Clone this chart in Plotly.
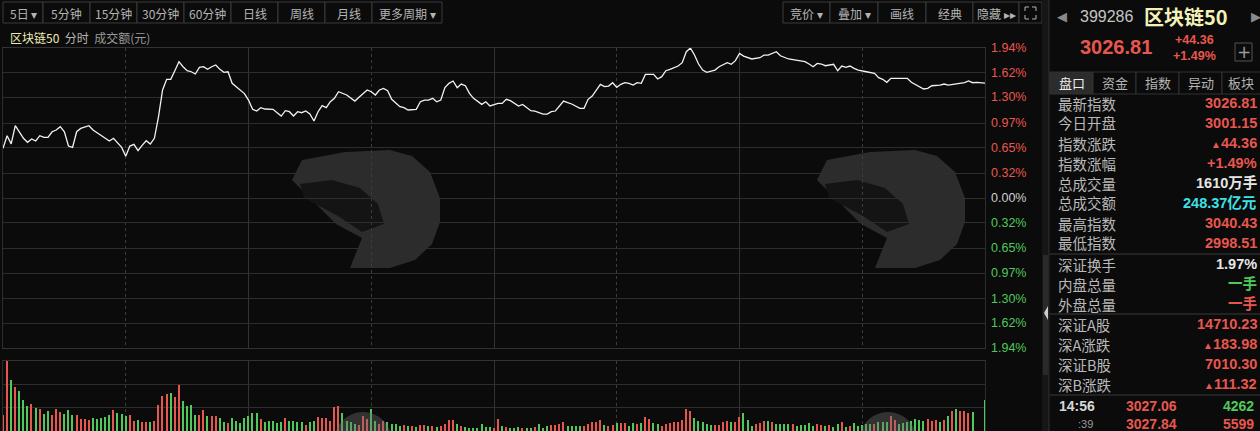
import plotly.graph_objects as go

# ---------------- data ----------------
# intraday minute index (0 = 9:30, 120 = 13:00, 240 = 15:00) and change vs prev close (%)
price_min = [0, 1, 2, 3, 5, 6, 7, 8, 9, 10, 11, 12, 13, 14, 15, 16, 17, 18, 19, 21, 22, 24, 25, 26, 27, 29, 30,
             31, 32, 33, 34, 35, 36, 37, 38, 39, 40, 41, 42, 43, 44, 45, 46, 47, 48, 49, 50, 51, 52, 53, 54, 55,
             56, 58, 59, 60, 61, 62, 63, 64, 66, 67, 68, 69, 70, 71, 72, 73, 74, 75, 76, 77, 78, 79, 80, 81, 82,
             84, 86, 87, 89, 90, 91, 92, 93, 94, 95, 97, 98, 99, 101, 102, 103, 104, 105, 106, 107, 108, 109, 110,
             111, 112, 113, 114, 115, 117, 118, 119, 121, 122, 123, 124, 126, 127, 128, 129, 130, 132, 133, 134,
             135, 137, 138, 139, 141, 142, 143, 144, 146, 147, 148, 149, 150, 151, 152, 153, 154, 155, 156, 157,
             159, 160, 161, 162, 163, 165, 166, 167, 168, 169, 170, 171, 172, 174, 175, 177, 178, 179, 180, 181,
             183, 185, 186, 187, 189, 190, 192, 194, 196, 197, 198, 199, 200, 201, 203, 204, 205, 206, 207, 208,
             209, 211, 213, 214, 215, 216, 217, 219, 221, 222, 224, 225, 226, 227, 229, 230, 231, 233, 234, 235,
             236, 237, 238, 239, 240]
price_pct = [0.643, 0.806, 0.70, 0.935, 0.772, 0.72, 0.763, 0.737, 0.806, 0.785, 0.785, 0.857, 0.879, 0.922,
             0.857, 0.672, 0.655, 0.857, 0.90, 0.935, 0.879, 0.806, 0.78, 0.737, 0.772, 0.655, 0.54,
             0.672, 0.694, 0.612, 0.68, 0.741, 0.698, 0.772, 1.05, 1.397, 1.535, 1.535, 1.646, 1.763, 1.698,
             1.646, 1.633, 1.604, 1.690, 1.698, 1.664, 1.698, 1.72, 1.664, 1.625, 1.633,
             1.483, 1.397, 1.35, 1.267, 1.147, 1.125, 1.168, 1.151, 1.147, 1.103, 1.06, 1.129, 1.116, 1.06,
             1.116, 1.103, 1.125, 1.086, 0.996, 1.116, 1.194, 1.168, 1.245, 1.289, 1.375,
             1.332, 1.254, 1.302, 1.397, 1.375, 1.332, 1.397, 1.418, 1.388, 1.276, 1.181, 1.168, 1.138, 1.147,
             1.245, 1.267, 1.267, 1.289, 1.245, 1.267, 1.427, 1.483, 1.513,
             1.427, 1.474, 1.452, 1.354, 1.289, 1.211, 1.245, 1.19, 1.224, 1.224, 1.276, 1.259, 1.19, 1.211,
             1.168, 1.129, 1.125, 1.086, 1.086, 1.116,
             1.125, 1.254, 1.233, 1.216, 1.16, 1.16, 1.276, 1.319, 1.47, 1.44, 1.448, 1.491, 1.431, 1.47, 1.491,
             1.483, 1.461, 1.491, 1.483, 1.599,
             1.599, 1.539, 1.569, 1.646, 1.664, 1.707, 1.75, 1.892, 1.94, 1.849, 1.733, 1.655, 1.625, 1.655,
             1.698, 1.75, 1.729, 1.776, 1.871, 1.836,
             1.798, 1.814, 1.849, 1.849, 1.892, 1.84, 1.798, 1.776, 1.763, 1.733, 1.698, 1.741, 1.733, 1.711,
             1.729, 1.646, 1.707, 1.69, 1.707, 1.677,
             1.655, 1.633, 1.612, 1.556, 1.535, 1.496, 1.548, 1.548, 1.548, 1.496, 1.44, 1.41, 1.418, 1.452,
             1.461, 1.474, 1.461, 1.474, 1.483, 1.491,
             1.513, 1.491, 1.496, 1.491, 1.487]

# per-minute turnover (arbitrary units) and direction (u = up / red, d = down / green)
vol = [16, 70, 51, 44, 40, 31, 25, 27, 23, 22, 17, 20, 16, 22, 19, 17, 21, 16, 16, 12,
       12, 11, 13, 12, 13, 14, 16, 21, 18, 17, 15, 16, 10, 11, 9, 9, 9, 10, 26, 35,
       37, 38, 34, 46, 30, 25, 26, 16, 16, 21, 15, 15, 15, 13, 9, 8, 13, 10, 8, 13,
       15, 18, 18, 12, 9, 10, 10, 8, 9, 13, 10, 10, 9, 9, 6, 9, 10, 14, 13, 13,
       10, 24, 25, 18, 10, 9, 7, 6, 15, 12, 22, 10, 7, 10, 9, 7, 7, 5, 6, 5,
       5, 4, 6, 6, 5, 5, 4, 5, 7, 11, 11, 7, 5, 4, 3, 3, 3, 7, 4, 4,
       3, 12, 5, 4, 3, 3, 4, 3, 3, 3, 4, 7, 3, 5, 6, 6, 7, 9, 5, 5,
       5, 5, 5, 7, 9, 9, 11, 6, 5, 6, 8, 8, 8, 5, 8, 7, 8, 14, 12, 8,
       7, 5, 7, 8, 9, 9, 11, 22, 20, 13, 10, 9, 7, 6, 6, 6, 9, 10, 9, 9,
       14, 18, 11, 5, 7, 8, 10, 10, 9, 7, 7, 7, 7, 7, 5, 6, 6, 8, 5, 7,
       6, 5, 6, 4, 7, 9, 4, 5, 8, 5, 6, 7, 7, 7, 9, 9, 9, 15, 11, 7,
       8, 9, 10, 12, 11, 10, 12, 10, 11, 9, 11, 15, 20, 22, 20, 20, 18, 19, 0, 0,
       31]
vol_dir = [
 'u','u','d','u','d','d','d','u','d','u','d','d','u','u','u','d','d','d','u','u',
 'u','u','d','d','d','d','d','u','d','d','d','u','u','d','u','u','d','u','u','u',
 'u','d','u','u','d','d','d','d','u','u','d','u','u','d','d','u','d','d','d','d',
 'd','d','d','u','d','d','d','d','d','u','d','d','d','d','u','d','d','u','u','u',
 'u','u','u','d','d','d','d','u','u','u','d','d','u','u','d','d','d','d','u','d',
 'u','d','u','u','d','u','d','u','u','u','u','d','u','d','d','d','d','d','d','d',
 'u','u','d','u','d','d','d','u','d','d','u','d','d','d','u','u','u','u','d','d',
 'd','d','u','u','u','u','u','d','u','u','d','u','u','d','d','u','d','u','u','d',
 'd','u','u','u','u','u','u','u','u','d','d','d','d','d','u','u','u','u','d','u',
 'u','d','d','d','u','u','u','d','u','d','d','d','d','u','d','d','d','d','d','u',
 'u','d','u','d','d','u','d','u','d','d','d','d','d','u','d','d','d','u','u','d',
 'd','d','d','d','d','d','u','u','u','d','u','d','u','d','u','u','u','d','d','d',
 'd']

axis_levels = [-1.94, -1.62, -1.30, -0.97, -0.65, -0.32, 0.0, 0.32, 0.65, 0.97, 1.30, 1.62, 1.94]

toolbar_left = ["5日 ▾", "5分钟", "15分钟", "30分钟", "60分钟", "日线", "周线", "月线", "更多周期 ▾"]
toolbar_right = ["竞价 ▾", "叠加 ▾", "画线", "经典", "隐藏 ▸▸"]
tabs = ["盘口", "资金", "指数", "异动", "板块"]

panel_labels = ["最新指数", "今日开盘", "指数涨跌", "指数涨幅", "总成交量", "总成交额", "最高指数", "最低指数",
                "深证换手", "内盘总量", "外盘总量",
                "深证A股", "深A涨跌", "深证B股", "深B涨跌"]
panel_values = ["3026.81", "3001.15", "▲44.36", "+1.49%", "1610万手", "248.37亿元", "3040.43", "2998.51",
                "1.97%", "一手", "一手",
                "14710.23", "▲183.98", "7010.30", "▲111.32"]
panel_colors = ["r", "r", "r", "r", "w", "c", "r", "r",
                "w", "g", "r",
                "r", "r", "r", "r"]

tick_rows = [("14:56", "3027.06", "4262", "g"), (":39", "3027.84", "5599", "r")]

# ---------------- styling ----------------
W, H = 1260, 431
BG = "#0b0b0b"
GRID = "#2d2d2d"
RED = "#e8574f"
GREEN = "#4fc85c"
CYAN = "#3fe0e6"
GRAY = "#b4b4b4"
CN = "Noto Sans CJK SC"
NUM = "Liberation Sans, Noto Sans CJK SC"
COLMAP = {"r": RED, "g": GREEN, "w": "#e6e6e6", "c": CYAN}


def X(px):
    return px / W


def Y(py):
    return 1 - py / H


fig = go.Figure()

fig.add_trace(go.Scatter(x=price_min, y=price_pct, mode="lines",
                         line=dict(color="#f2f2f2", width=1.3),
                         xaxis="x", yaxis="y", hoverinfo="skip", showlegend=False))

fig.add_trace(go.Bar(x=list(range(len(vol))), y=vol,
                     marker=dict(color=[RED if d == "u" else GREEN for d in vol_dir], line=dict(width=0)),
                     width=0.32, xaxis="x2", yaxis="y2", hoverinfo="skip", showlegend=False))

xcommon = dict(range=[0, 240], tickvals=[0, 60, 120, 180, 240], showgrid=True, gridcolor="#333333",
               gridwidth=1, showticklabels=False, ticks="", zeroline=False,
               showline=True, mirror=True, linecolor="#333333",
               minor=dict(tickvals=[30, 90, 150, 210], showgrid=True, griddash="dot", gridcolor="#3c3c3c"),
               domain=[X(3), X(985)], fixedrange=True)

shapes = []
annotations = []

# ---- watermark logos (decoration) ----
def poly(points, dx, fill):
    path = "M " + " L ".join(f"{X(px + dx):.5f},{Y(py):.5f}" for px, py in points) + " Z"
    return dict(type="path", xref="paper", yref="paper", path=path, fillcolor=fill,
                line=dict(width=0), layer="below")

body = [(292, 180), (302, 160), (345, 152), (390, 150), (412, 156), (430, 172), (440, 198), (440, 222),
        (432, 244), (415, 260), (390, 268), (350, 268), (362, 238), (336, 224)]
cut = [(300, 184), (332, 180), (360, 188), (378, 204), (384, 224), (362, 232), (338, 216), (304, 198)]
for dx in (0, 525):
    shapes.append(poly(body, dx, "#2c2c2c"))
    shapes.append(poly(cut, dx, "#141414"))
    shapes.append(dict(type="circle", xref="paper", yref="paper",
                       x0=X(334 + dx), x1=X(392 + dx), y0=Y(470), y1=Y(412),
                       fillcolor="rgba(110,110,110,0.4)", line=dict(width=0), layer="above"))

# ---- toolbar ----
left_edges = [3, 43, 90, 137, 184, 231, 278, 325, 372, 442]
for i, t in enumerate(toolbar_left):
    x0, x1 = left_edges[i], left_edges[i + 1]
    shapes.append(dict(type="rect", xref="paper", yref="paper", x0=X(x0), x1=X(x1), y0=Y(23), y1=Y(2),
                       line=dict(color="#3a3a3a", width=1), fillcolor=BG))
    annotations.append(dict(x=X((x0 + x1) / 2), y=Y(13), xref="paper", yref="paper", text=t, showarrow=False,
                            font=dict(family=CN, size=12, color=GRAY), xanchor="center", yanchor="middle"))
right_edges = [783, 830, 878, 926, 973, 1019]
for i, t in enumerate(toolbar_right):
    x0, x1 = right_edges[i], right_edges[i + 1]
    shapes.append(dict(type="rect", xref="paper", yref="paper", x0=X(x0), x1=X(x1), y0=Y(23), y1=Y(2),
                       line=dict(color="#3a3a3a", width=1), fillcolor=BG))
    annotations.append(dict(x=X((x0 + x1) / 2), y=Y(13), xref="paper", yref="paper", text=t, showarrow=False,
                            font=dict(family=CN, size=12, color=GRAY), xanchor="center", yanchor="middle"))
shapes.append(dict(type="rect", xref="paper", yref="paper", x0=X(1019), x1=X(1042), y0=Y(23), y1=Y(2),
                   line=dict(color="#3a3a3a", width=1), fillcolor=BG))
for (cx, cy, sx, sy) in [(1025, 7, 1, 1), (1036, 7, -1, 1), (1025, 19, 1, -1), (1036, 19, -1, -1)]:
    shapes.append(dict(type="path", xref="paper", yref="paper",
                       path=f"M {X(cx + 4 * sx):.5f},{Y(cy):.5f} L {X(cx):.5f},{Y(cy):.5f} L {X(cx):.5f},{Y(cy + 4 * sy):.5f}",
                       line=dict(color=GRAY, width=1)))

# ---- subtitle ----
annotations.append(dict(x=X(8), y=Y(37), xref="paper", yref="paper", xanchor="left", yanchor="middle",
                        showarrow=False,
                        text="<span style='color:#ecebb4'>区块链50</span>  <span style='color:#b4b4b4'>分时</span>  "
                             "<span style='color:#9a9a9a'>成交额(元)</span>",
                        font=dict(family=CN, size=12)))

# ---- right axis labels ----
for lv in axis_levels:
    col = RED if lv > 0 else (GREEN if lv < 0 else "#d0d0d0")
    annotations.append(dict(x=X(989), y=lv, xref="paper", yref="y", xanchor="left", yanchor="middle",
                            showarrow=False, text=f"{abs(lv):.2f}%",
                            font=dict(family=NUM, size=12.5, color=col)))

# ---- divider column ----
shapes.append(dict(type="rect", xref="paper", yref="paper", x0=X(1042), x1=X(1049), y0=0, y1=1,
                   fillcolor="#161616", line=dict(width=0)))
shapes.append(dict(type="line", xref="paper", yref="paper", x0=X(1049), x1=X(1049), y0=0, y1=1,
                   line=dict(color="#303030", width=1)))
shapes.append(dict(type="rect", xref="paper", yref="paper", x0=X(1043), x1=X(1048), y0=Y(375), y1=Y(255),
                   fillcolor="#2a2a2a", line=dict(width=0)))
shapes.append(dict(type="path", xref="paper", yref="paper",
                   path=f"M {X(1048):.5f},{Y(306):.5f} L {X(1044):.5f},{Y(313):.5f} L {X(1048):.5f},{Y(320):.5f} Z",
                   fillcolor="#cfcfcf", line=dict(width=0)))

# ---- side panel header ----
hdr = [
    dict(x=X(1062), y=Y(17), text="◀", font=dict(family="DejaVu Sans", size=13, color="#8a8a8a")),
    dict(x=X(1106), y=Y(17), text="399286", font=dict(family=NUM, size=16, color="#c4c4c4")),
    dict(x=X(1186), y=Y(17), text="<b>区块链50</b>", font=dict(family=CN, size=20, color="#f3f1b8")),
    dict(x=X(1116), y=Y(47), text="<b>3026.81</b>", font=dict(family=NUM, size=20, color=RED)),
    dict(x=X(1194), y=Y(40), text="<b>+44.36</b>", font=dict(family=NUM, size=12.5, color=RED)),
    dict(x=X(1194), y=Y(56), text="<b>+1.49%</b>", font=dict(family=NUM, size=12.5, color=RED)),
    dict(x=X(1243.5), y=Y(52), text="+", font=dict(family="DejaVu Sans", size=17, color="#9a9a9a")),
    dict(x=X(1256), y=Y(17), text="▶", font=dict(family="DejaVu Sans", size=13, color="#8a8a8a")),
]
for a in hdr:
    a.update(xref="paper", yref="paper", showarrow=False, xanchor="center", yanchor="middle")
annotations += hdr
shapes.append(dict(type="rect", xref="paper", yref="paper", x0=X(1235), x1=X(1252), y0=Y(61), y1=Y(43),
                   line=dict(color="#555555", width=1)))

# ---- tabs ----
tab_edges = [1050, 1093, 1136, 1179, 1222, 1262]
for i, t in enumerate(tabs):
    x0, x1 = tab_edges[i], tab_edges[i + 1]
    shapes.append(dict(type="rect", xref="paper", yref="paper", x0=X(x0), x1=X(x1), y0=Y(94), y1=Y(72),
                       line=dict(color="#333333", width=1), fillcolor="#2c2c2c" if i == 0 else BG))
    annotations.append(dict(x=X((x0 + min(x1, 1260)) / 2), y=Y(83), xref="paper", yref="paper", text=t,
                            showarrow=False,
                            font=dict(family=CN, size=13, color="#f0f0f0" if i == 0 else GRAY),
                            xanchor="center", yanchor="middle"))

# ---- panel rows ----
row_y = [103, 123, 143, 163, 183, 203, 223, 243, 264, 284, 304, 324, 344, 364, 384]
for lab, val, c, yy in zip(panel_labels, panel_values, panel_colors, row_y):
    annotations.append(dict(x=X(1056), y=Y(yy), xref="paper", yref="paper", text=lab, showarrow=False,
                            font=dict(family=CN, size=14.5, color="#b9b9b9"), xanchor="left", yanchor="middle"))
    v = val.replace("▲", "<span style='font-size:10px'>▲</span>")
    annotations.append(dict(x=X(1259), y=Y(yy), xref="paper", yref="paper", text=f"<b>{v}</b>", showarrow=False,
                            font=dict(family=NUM, size=14.5, color=COLMAP[c]), xanchor="right", yanchor="middle"))
for yy in (254, 314, 395):
    shapes.append(dict(type="line", xref="paper", yref="paper", x0=X(1050), x1=1, y0=Y(yy), y1=Y(yy),
                       line=dict(color="#3a3a3a", width=1)))

for (tm, px_, v, c), yy in zip(tick_rows, [406, 424]):
    first = tm.startswith("1")
    annotations.append(dict(x=X(1057) if first else X(1076), y=Y(yy), xref="paper", yref="paper",
                            text=f"<b>{tm}</b>" if first else tm, showarrow=False,
                            font=dict(family=NUM, size=14 if first else 11,
                                      color="#d8d8d8" if first else "#9a9a9a"),
                            xanchor="left", yanchor="middle"))
    annotations.append(dict(x=X(1151), y=Y(yy), xref="paper", yref="paper", text=f"<b>{px_}</b>", showarrow=False,
                            font=dict(family=NUM, size=14, color=RED), xanchor="center", yanchor="middle"))
    annotations.append(dict(x=X(1256), y=Y(yy), xref="paper", yref="paper", text=f"<b>{v}</b>", showarrow=False,
                            font=dict(family=NUM, size=14, color=COLMAP[c]), xanchor="right", yanchor="middle"))

fig.update_layout(
    width=W, height=H, margin=dict(l=0, r=0, t=0, b=0),
    paper_bgcolor=BG, plot_bgcolor=BG,
    showlegend=False, bargap=0,
    xaxis=dict(anchor="y", **xcommon),
    xaxis2=dict(anchor="y2", **xcommon),
    yaxis=dict(domain=[Y(348), Y(48)], range=[-1.94, 1.94], tickvals=axis_levels, showgrid=True,
               gridcolor=GRID, showticklabels=False, ticks="", zeroline=False,
               showline=True, mirror=True, linecolor=GRID, fixedrange=True),
    yaxis2=dict(domain=[0, Y(361)], range=[0, 70], tickvals=[0, 23.3, 46.7, 70], showgrid=True,
                gridcolor=GRID, showticklabels=False, ticks="", zeroline=False,
                showline=True, mirror=True, linecolor=GRID, fixedrange=True),
    shapes=shapes, annotations=annotations,
)

fig.write_html("out.html", config={"displayModeBar": False},
               post_script="document.body.style.margin='0';document.body.style.overflow='hidden';"
                           "document.body.style.background='#0b0b0b';")
